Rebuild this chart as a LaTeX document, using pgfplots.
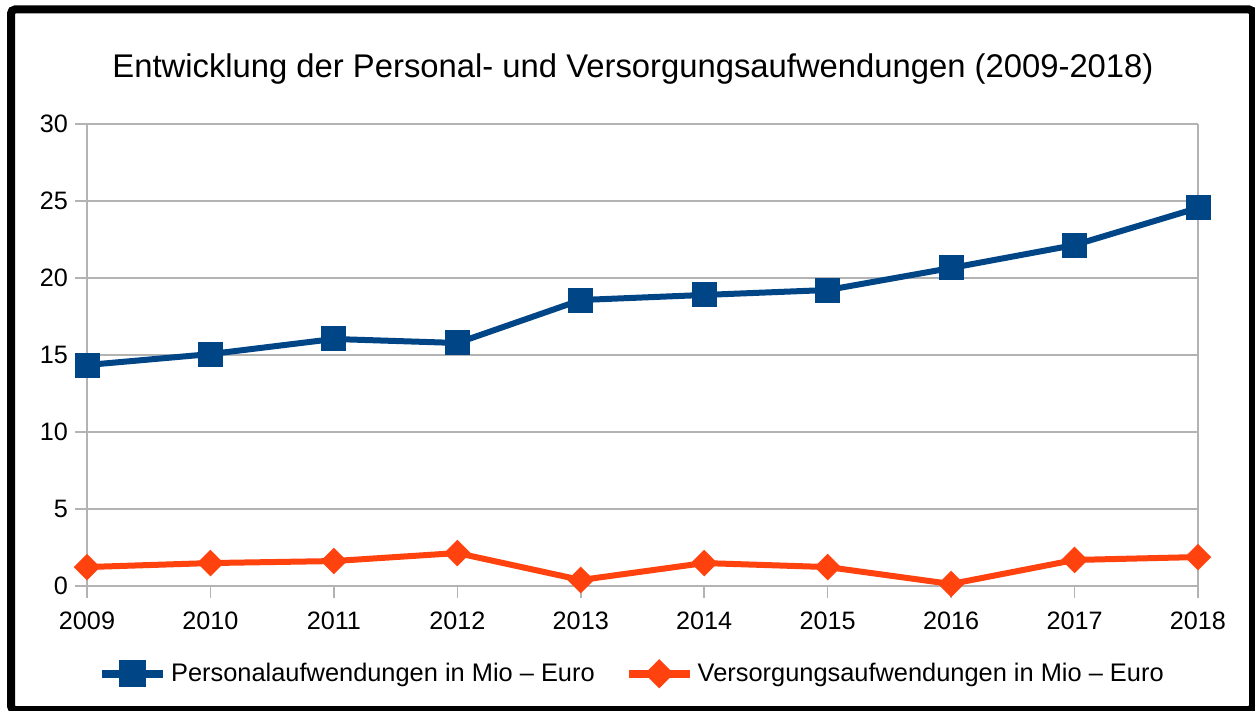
\documentclass[border=0pt]{standalone}
\usepackage{fontspec}
\setmainfont{Liberation Sans}
\usepackage{pgfplots}
\pgfplotsset{compat=1.18}
\definecolor{cblue}{HTML}{004586}
\definecolor{corange}{HTML}{FF420E}
\definecolor{cgrid}{HTML}{B3B3B3}
\begin{document}
\begin{tikzpicture}[x=0.5pt,y=-0.5pt]
\useasboundingbox (0,0) rectangle (1255,711);
\fill[white] (0,0) rectangle (1255,711);
\begin{axis}[
  at={(43.5pt,-293pt)}, anchor=south west,
  scale only axis, width=555.5pt, height=231pt,
  xmin=2009, xmax=2018, ymin=0, ymax=30,
  xtick={2009,2010,...,2018}, ytick={0,5,...,30},
  /pgf/number format/1000 sep={},
  /pgf/number format/assume math mode=true,
  tick label style={font=\fontsize{12.6}{14}\selectfont},
  xticklabel style={yshift=-3.5pt},
  ymajorgrids, major grid style={cgrid, line width=0.75pt},
  axis line style={cgrid, line width=0.75pt},
  axis x line*=bottom, axis y line*=left,
  tick align=outside, major tick length=6pt,
  tick style={cgrid, line width=0.75pt},
  xtick pos=bottom, ytick pos=left,
  clip=false,
  legend columns=2,
  legend style={at={(0.4914,-0.19)}, anchor=center, draw=none, fill=none,
    font=\fontsize{12.7}{15}\selectfont, /tikz/every even column/.append style={column sep=13pt}},
  legend image code/.code={\draw[mark repeat=2,mark phase=2,line width=4pt] plot coordinates {(0pt,0pt)(15.25pt,0pt)(30.5pt,0pt)};},
]
\draw[cgrid, line width=0.75pt] (axis cs:2018,0) -- (axis cs:2018,30);
\addplot[cblue, line width=3pt, mark=square*, mark size=4.75pt, mark options={solid}] coordinates {
(2009,14.35) (2010,15.06) (2011,16.04) (2012,15.78) (2013,18.57)
(2014,18.90) (2015,19.22) (2016,20.65) (2017,22.14) (2018,24.55)};
\addlegendentry{Personalaufwendungen in Mio – Euro}
\addplot[corange, line width=3pt, mark=square*, mark size=3.2pt, mark options={solid, rotate=45}] coordinates {
(2009,1.23) (2010,1.49) (2011,1.62) (2012,2.14) (2013,0.39)
(2014,1.49) (2015,1.23) (2016,0.13) (2017,1.69) (2018,1.88)};
\addlegendentry{Versorgungsaufwendungen in Mio – Euro}
\end{axis}
\node[font=\fontsize{16.4}{19}\selectfont] at (633,69) {Entwicklung der Personal- und Versorgungsaufwendungen (2009-2018)};
\draw[black, line width=4pt, rounded corners=2pt] (11,9.5) rectangle (1253,710);
\end{tikzpicture}
\end{document}
